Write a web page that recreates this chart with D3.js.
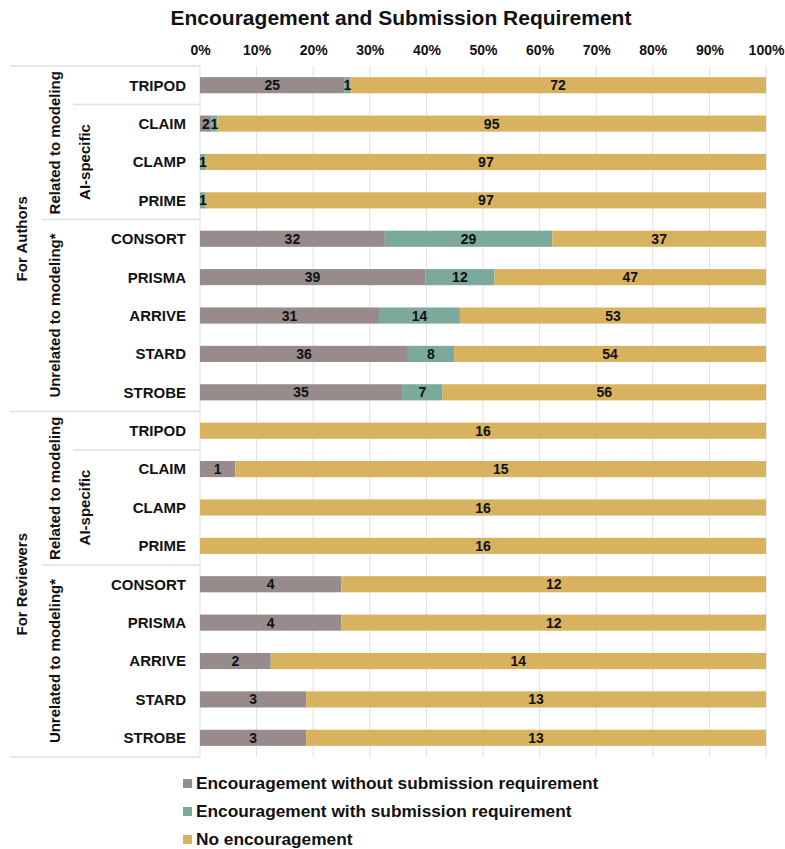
<!DOCTYPE html>
<meta charset="utf-8">
<script src="https://d3js.org/d3.v7.min.js"></script>
<style>
  body { margin: 0; background: #fff; }
  text { font-family: "Liberation Sans", Arial, sans-serif; font-weight: bold; fill: #111; }
</style>
<body>
<div id="my_dataviz"></div>
<script>

// rows, top to bottom
var guidelines = ["TRIPOD", "CLAIM", "CLAMP", "PRIME", "CONSORT", "PRISMA", "ARRIVE", "STARD", "STROBE"];
var audiences = ["For Authors", "For Reviewers"];

// counts per row
var authorsWithout = [25, 2, 0, 0, 32, 39, 31, 36, 35];
var authorsWith    = [1, 1, 1, 1, 29, 12, 14, 8, 7];
var authorsNone    = [72, 95, 97, 97, 37, 47, 53, 54, 56];

var reviewersWithout = [0, 1, 0, 0, 4, 4, 2, 3, 3];
var reviewersWith    = [0, 0, 0, 0, 0, 0, 0, 0, 0];
var reviewersNone    = [16, 15, 16, 16, 12, 12, 14, 13, 13];

var seriesNames = ["Encouragement without submission requirement", "Encouragement with submission requirement", "No encouragement"];
var seriesColors = ["#978b8b", "#7ba99b", "#d9b25f"];
var tickValues = [0, 0.1, 0.2, 0.3, 0.4, 0.5, 0.6, 0.7, 0.8, 0.9, 1];

var width = 785, height = 849;
var plotLeft = 200, plotRight = 766, plotTop = 66, plotBottom = 757;

var svg = d3.select("#my_dataviz")
  .append("svg")
    .attr("width", width)
    .attr("height", height);

// build the rows
var rows = [];
audiences.forEach(function(a, ai) {
  var w = ai == 0 ? authorsWithout : reviewersWithout;
  var s = ai == 0 ? authorsWith : reviewersWith;
  var n = ai == 0 ? authorsNone : reviewersNone;
  guidelines.forEach(function(g, i) {
    rows.push({ key: a + "|" + g, name: g, vals: [w[i], s[i], n[i]] });
  });
});

var x = d3.scaleLinear().domain([0, 1]).range([plotLeft, plotRight]);
var y = d3.scaleBand()
  .domain(rows.map(function(d) { return d.key; }))
  .range([plotTop, plotBottom])
  .paddingInner(0.58)
  .paddingOuter(0.29);

// title
svg.append("text")
  .attr("x", 401)
  .attr("y", 25)
  .attr("text-anchor", "middle")
  .style("font-size", "21px")
  .text("Encouragement and Submission Requirement");

// gridlines
svg.append("g")
  .selectAll("line")
  .data(tickValues)
  .enter()
  .append("line")
    .attr("x1", function(d) { return x(d); })
    .attr("x2", function(d) { return x(d); })
    .attr("y1", plotTop)
    .attr("y2", plotBottom)
    .attr("stroke", "#e0e0e0")
    .attr("stroke-width", 1);

// top axis
var xAxis = svg.append("g")
  .attr("transform", "translate(0," + plotTop + ")")
  .call(d3.axisTop(x).tickValues(tickValues).tickFormat(d3.format(".0%")).tickSize(0).tickPadding(11));
xAxis.select(".domain").remove();
xAxis.selectAll("text")
  .style("font-size", "14px")
  .style("font-family", "Liberation Sans, Arial, sans-serif")
  .style("font-weight", "bold")
  .attr("fill", "#111");

// bars
var barG = svg.selectAll("g.row")
  .data(rows)
  .enter()
  .append("g")
    .attr("class", "row");

barG.each(function(d) {
  var total = d3.sum(d.vals);
  var acc = 0;
  var segs = d.vals.map(function(v, i) {
    var s = { v: v, i: i, x0: acc / total, x1: (acc + v) / total };
    acc += v;
    return s;
  }).filter(function(s) { return s.v > 0; });
  var g = d3.select(this);
  g.selectAll("rect")
    .data(segs)
    .enter()
    .append("rect")
      .attr("x", function(s) { return x(s.x0); })
      .attr("width", function(s) { return x(s.x1) - x(s.x0); })
      .attr("y", y(d.key))
      .attr("height", y.bandwidth())
      .attr("fill", function(s) { return seriesColors[s.i]; });
  g.selectAll("text")
    .data(segs)
    .enter()
    .append("text")
      .attr("x", function(s) { return (x(s.x0) + x(s.x1)) / 2; })
      .attr("y", y(d.key) + y.bandwidth() / 2)
      .attr("dy", "0.36em")
      .attr("text-anchor", "middle")
      .style("font-size", "14px")
      .text(function(s) { return s.v; });
});

// row labels
svg.selectAll("text.rowlabel")
  .data(rows)
  .enter()
  .append("text")
    .attr("class", "rowlabel")
    .attr("x", 186)
    .attr("y", function(d) { return y(d.key) + y.bandwidth() / 2; })
    .attr("dy", "0.36em")
    .attr("text-anchor", "end")
    .style("font-size", "15px")
    .text(function(d) { return d.name; });

// table lines on the left
function rowTop(i) {
  if (i >= rows.length) return plotBottom;
  return y(rows[i].key) - y.step() * y.paddingInner() / 2;
}
var lines = [
  { x: 10, yy: plotTop },
  { x: 73, yy: rowTop(1) },
  { x: 42, yy: rowTop(4) },
  { x: 10, yy: rowTop(9) },
  { x: 73, yy: rowTop(10) },
  { x: 42, yy: rowTop(13) },
  { x: 10, yy: plotBottom }
];
svg.selectAll("line.sep")
  .data(lines)
  .enter()
  .append("line")
    .attr("class", "sep")
    .attr("x1", function(d) { return d.x; })
    .attr("x2", plotLeft)
    .attr("y1", function(d) { return d.yy; })
    .attr("y2", function(d) { return d.yy; })
    .attr("stroke", "#e0e0e0")
    .attr("stroke-width", 1.5);

// vertical group labels
var groups = [];
[0, 9].forEach(function(o, ai) {
  groups.push({ label: audiences[ai], x: 22, y0: rowTop(o), y1: rowTop(o + 9) });
  groups.push({ label: "Related to modeling", x: 55, y0: rowTop(o), y1: rowTop(o + 4) });
  groups.push({ label: "AI-specific", x: 85, y0: rowTop(o + 1), y1: rowTop(o + 4) });
  groups.push({ label: "Unrelated to modeling*", x: 55, y0: rowTop(o + 4), y1: rowTop(o + 9) });
});

svg.selectAll("text.grp")
  .data(groups)
  .enter()
  .append("text")
    .attr("class", "grp")
    .attr("transform", function(d) { return "translate(" + d.x + "," + (d.y0 + d.y1) / 2 + ")rotate(-90)"; })
    .attr("dy", "0.36em")
    .attr("text-anchor", "middle")
    .style("font-size", "15px")
    .text(function(d) { return d.label; });

// legend
var legend = svg.selectAll("g.legend")
  .data(seriesNames)
  .enter()
  .append("g")
    .attr("class", "legend")
    .attr("transform", function(d, i) { return "translate(183," + (783 + i * 28) + ")"; });
legend.append("rect")
  .attr("x", 0)
  .attr("y", -4)
  .attr("width", 9)
  .attr("height", 9)
  .attr("fill", function(d, i) { return seriesColors[i]; });
legend.append("text")
  .attr("x", 13)
  .attr("dy", "0.36em")
  .style("font-size", "17.3px")
  .text(function(d) { return d; });

</script>
</body>
